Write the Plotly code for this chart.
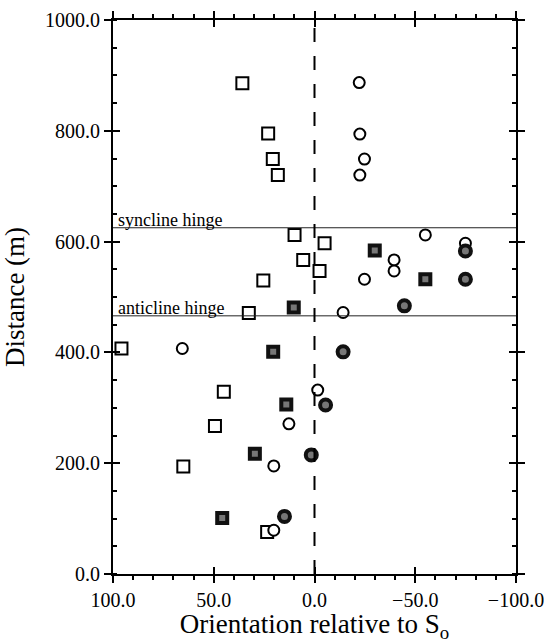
import plotly.graph_objects as go

# ---- data ----
open_sq_x = [35.8, 23.0, 20.7, 18.2, 9.9, -5.0, 5.6, -2.5, 25.4, 32.6, 95.8, 45.0, 49.4, 65.1, 23.5]
open_sq_y = [886, 795, 749, 720, 612, 597, 567, 547, 530, 471, 407, 329, 267, 194, 76]

filled_sq_x = [-29.9, -55.0, 10.3, 20.5, 14.0, 29.6, 45.8]
filled_sq_y = [584, 532, 481, 401, 306, 217, 101]

open_circ_x = [-22.2, -22.5, -24.8, -22.5, -55.0, -74.9, -39.5, -39.5, -24.8, -14.2, 65.6, -1.6, 12.7, 20.2, 20.2]
open_circ_y = [887, 794, 749, 720, 612, 597, 567, 547, 532, 472, 407, 332, 271, 195, 79]

filled_circ_x = [-74.9, -74.9, -44.6, -14.2, -5.5, 1.6, 14.9]
filled_circ_y = [583, 532, 484, 401, 305, 215, 104]

hinge_names = ["syncline hinge", "anticline hinge"]
hinge_y = [625, 466]

x_range = [100, -100]
y_range = [0, 1000]
zero_x = 0

FONT = "'Liberation Serif', 'Times New Roman', Times, serif"

fig = go.Figure()

# hinge lines
for name, h in zip(hinge_names, hinge_y):
    fig.add_trace(go.Scatter(x=x_range, y=[h, h], mode="lines",
                             line=dict(color="#222", width=1), hoverinfo="skip",
                             showlegend=False, xaxis="x2", yaxis="y2"))
    fig.add_annotation(x=x_range[0], y=h, xref="x", yref="y", text=name,
                       showarrow=False, xanchor="left", yanchor="bottom",
                       xshift=3, yshift=-4,
                       font=dict(family=FONT, size=18, color="black"))

# dashed zero line
fig.add_trace(go.Scatter(x=[zero_x, zero_x], y=y_range, mode="lines",
                         line=dict(color="black", width=2, dash="14px,14px"),
                         hoverinfo="skip", showlegend=False, xaxis="x2", yaxis="y2"))

# markers
fig.add_trace(go.Scatter(x=open_sq_x, y=open_sq_y, mode="markers", showlegend=False,
                         marker=dict(symbol="square", size=12, color="white",
                                     line=dict(color="black", width=2))))
fig.add_trace(go.Scatter(x=filled_sq_x, y=filled_sq_y, mode="markers", showlegend=False,
                         marker=dict(symbol="square", size=10, color="#777777",
                                     line=dict(color="#111", width=4))))
fig.add_trace(go.Scatter(x=open_circ_x, y=open_circ_y, mode="markers", showlegend=False,
                         marker=dict(symbol="circle", size=11, color="white",
                                     line=dict(color="black", width=2))))
fig.add_trace(go.Scatter(x=filled_circ_x, y=filled_circ_y, mode="markers", showlegend=False,
                         marker=dict(symbol="circle", size=11, color="#777777",
                                     line=dict(color="#111", width=4))))

tickfont = dict(family=FONT, size=20, color="black")

fig.update_layout(
    width=544, height=643,
    margin=dict(l=113, r=28, t=20, b=69),
    paper_bgcolor="white", plot_bgcolor="white",
    font=dict(family=FONT, color="black"),
    xaxis=dict(range=x_range, tick0=0, dtick=50, tickformat=".1f", automargin=False,
               ticklabeloverflow="allow",
               ticks="outside", ticklen=7, tickwidth=2, tickcolor="black",
               minor=dict(ticks="outside", dtick=10, ticklen=4, tickwidth=1.5, tickcolor="black"),
               showline=True, linewidth=2, linecolor="black", mirror="ticks",
               showgrid=False, zeroline=False, tickfont=tickfont,
               title=dict(text="Orientation relative to S<sub>o</sub>",
                          font=dict(family=FONT, size=27, color="black"))),
    yaxis=dict(range=y_range, tick0=0, dtick=200, tickformat=".1f", automargin=False,
               ticklabeloverflow="allow",
               ticks="outside", ticklen=7, tickwidth=2, tickcolor="black",
               minor=dict(ticks="inside", dtick=50, ticklen=4, tickwidth=1.5, tickcolor="black"),
               showline=True, linewidth=2, linecolor="black", mirror="ticks",
               showgrid=False, zeroline=False, tickfont=tickfont,
               title=dict(text="Distance (m)",
                          font=dict(family=FONT, size=27, color="black"))),
    xaxis2=dict(range=x_range, overlaying="x", anchor="y2", tick0=0, dtick=50,
                ticks="inside", ticklen=7, tickwidth=2, tickcolor="black",
                mirror="ticks", showline=False, showgrid=False, zeroline=False,
                showticklabels=False),
    yaxis2=dict(range=y_range, overlaying="y", anchor="x2", tick0=0, dtick=200,
                ticks="inside", ticklen=7, tickwidth=2, tickcolor="black",
                mirror="ticks", showline=False, showgrid=False, zeroline=False,
                showticklabels=False),
)

fig.write_html("out.html", config={"displayModeBar": False},
               post_script="document.body.style.margin='0';")
